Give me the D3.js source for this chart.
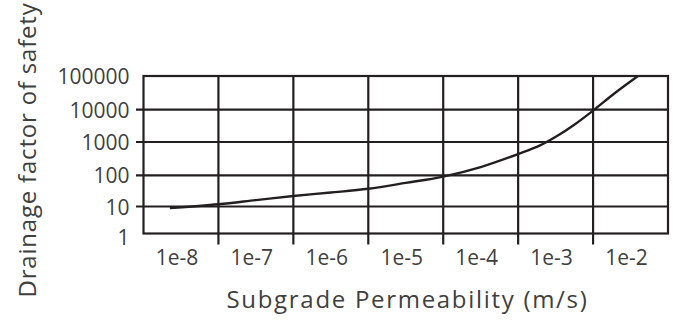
<!DOCTYPE html>
<html><head><meta charset="utf-8">
<script src="https://cdn.jsdelivr.net/npm/d3@7"></script>
<style>
body{margin:0;background:#fff}
svg{display:block}
</style>
</head><body>
<svg id="chart" width="674" height="325"></svg>
<script>
// ---- data ----
const permeability = [2.25e-8, 1e-7, 3.16e-7, 1e-6, 3.16e-6, 1e-5, 3.16e-5, 1e-4, 3.16e-4, 1e-3, 1.96e-3, 3.3e-3, 5.74e-3, 1e-2, 1.96e-2, 3.98e-2];
const safetyFactor = [8.8, 11.8, 16, 21.7, 28, 37, 57, 91, 177, 436, 790, 1530, 3560, 9380, 31300, 100000];
const xTickValues = [1e-8, 1e-7, 1e-6, 1e-5, 1e-4, 1e-3, 1e-2];
const xTickLabels = ["1e-8", "1e-7", "1e-6", "1e-5", "1e-4", "1e-3", "1e-2"];
const yTickValues = [1, 10, 100, 1000, 10000, 100000];
const yTickLabels = ["1", "10", "100", "1000", "10000", "100000"];
const xTitle = "Subgrade Permeability (m/s)";
const yTitle = "Drainage factor of safety";

// ---- layout ----
const pL = 143.5, pR = 668, pT = 76, pB = 233.5;
const ink = "#231f20", textCol = "#404040";
const font = "'Open Sans', 'Noto Sans', sans-serif";

const svg = d3.select("#chart");

const x = d3.scaleLog().domain([1e-8, 1e-1]).range([pL, pR]);
const y = d3.scaleLog().domain(yTickValues).range([pB, 206.5, 175.3, 142, 109.7, pT]);

// horizontal grid (interior values) with outside tick stubs
const yInner = yTickValues.slice(1, -1);
svg.append("g").selectAll("line").data(yInner).join("line")
  .attr("x1", pL - 7.5).attr("x2", pR)
  .attr("y1", d => y(d)).attr("y2", d => y(d))
  .attr("stroke", ink).attr("stroke-width", 2.2);

// vertical grid (interior decades) with stubs below
const xInner = xTickValues.slice(1);
svg.append("g").selectAll("line").data(xInner).join("line")
  .attr("x1", d => x(d)).attr("x2", d => x(d))
  .attr("y1", pT).attr("y2", pB + 11)
  .attr("stroke", ink).attr("stroke-width", 2.2);

// frame
svg.append("rect")
  .attr("x", pL).attr("y", pT)
  .attr("width", pR - pL).attr("height", pB - pT)
  .attr("fill", "none").attr("stroke", ink).attr("stroke-width", 2.2);

// y labels
const yAxis = d3.axisLeft(y).tickValues(yTickValues)
  .tickFormat((d, i) => yTickLabels[i]).tickSize(0).tickPadding(14);
const gy = svg.append("g").attr("transform", `translate(${pL},0)`).call(yAxis);
gy.select(".domain").remove();
gy.selectAll("text").attr("font-family", font).attr("font-size", 21)
  .attr("fill", textCol).attr("dy", (d) => d === 1 ? "0.52em" : "0.36em");

// x labels (placed to the right of each decade line)
const xAxis = d3.axisBottom(x).tickValues(xTickValues)
  .tickFormat((d, i) => xTickLabels[i]).tickSize(0);
const gx = svg.append("g").attr("transform", `translate(0,${pB})`).call(xAxis);
gx.select(".domain").remove();
gx.selectAll("text").attr("font-family", font).attr("font-size", 21)
  .attr("fill", textCol)
  .attr("x", d => x(d * 2.75) - x(d)).attr("y", 31.5).attr("dy", 0)
  .attr("text-anchor", "middle");

// curve
const line = d3.line()
  .x((d, i) => x(permeability[i]))
  .y((d, i) => y(safetyFactor[i]))
  .curve(d3.curveCatmullRom.alpha(0.5));
svg.append("path").datum(safetyFactor)
  .attr("d", line).attr("fill", "none")
  .attr("stroke", ink).attr("stroke-width", 2.4);

// titles
svg.append("text").text(xTitle)
  .attr("x", 407.5).attr("y", 307.5).attr("text-anchor", "middle")
  .attr("font-family", font).attr("font-size", 24).attr("letter-spacing", 1.7)
  .attr("fill", textCol);
svg.append("text").text(yTitle)
  .attr("transform", "translate(36,150) rotate(-90)").attr("text-anchor", "middle")
  .attr("font-family", font).attr("font-size", 24).attr("letter-spacing", 0.8)
  .attr("fill", textCol);
</script>
</body></html>
